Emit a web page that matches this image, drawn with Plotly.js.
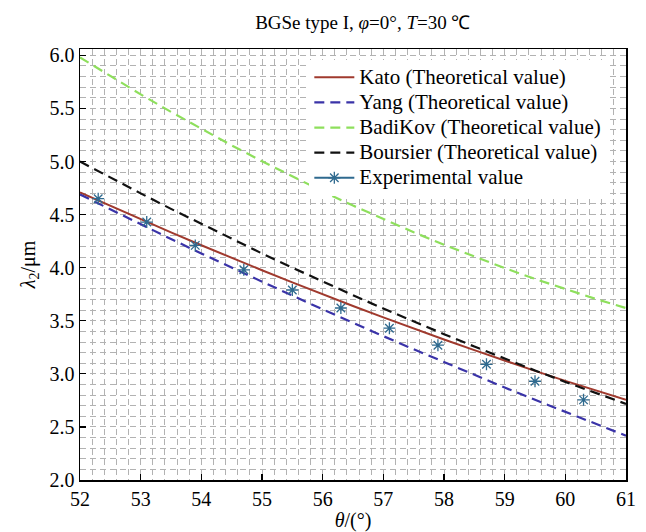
<!DOCTYPE html>
<html>
<head>
<meta charset="utf-8">
<script src="https://cdn.plot.ly/plotly-3.0.1.min.js"></script>
<style>
html,body{margin:0;padding:0;background:#fff;}
#chart{width:646px;height:532px;}
</style>
</head>
<body>
<div id="chart"></div>
<script>
// theta (deg) grid for theoretical curves
const thetaTheory = [52, 52.5, 53, 53.5, 54, 54.5, 55, 55.5, 56, 56.5, 57, 57.5, 58, 58.5, 59, 59.5, 60, 60.5, 61];
const kato     = [4.710, 4.582, 4.456, 4.333, 4.211, 4.092, 3.976, 3.862, 3.749, 3.639, 3.532, 3.426, 3.324, 3.223, 3.124, 3.028, 2.934, 2.844, 2.755];
const yang     = [4.690, 4.548, 4.409, 4.270, 4.134, 4.000, 3.867, 3.737, 3.608, 3.480, 3.355, 3.232, 3.110, 2.990, 2.871, 2.755, 2.640, 2.527, 2.417];
const badikov  = [5.980, 5.804, 5.633, 5.467, 5.307, 5.152, 5.003, 4.858, 4.719, 4.585, 4.457, 4.334, 4.216, 4.104, 3.996, 3.894, 3.798, 3.706, 3.620];
const boursier = [5.000, 4.848, 4.700, 4.554, 4.412, 4.271, 4.134, 4.000, 3.869, 3.741, 3.615, 3.493, 3.374, 3.257, 3.143, 3.032, 2.924, 2.819, 2.717];
// experimental
const thetaExp = [52.3, 53.1, 53.9, 54.7, 55.5, 56.3, 57.1, 57.9, 58.7, 59.5, 60.3];
const lambdaExp = [4.65, 4.43, 4.21, 3.98, 3.79, 3.62, 3.43, 3.27, 3.09, 2.93, 2.755];
const seriesNames = ['Kato (Theoretical value)', 'Yang (Theoretical value)', 'BadiKov (Theoretical value)', 'Boursier (Theoretical value)', 'Experimental value'];
const xTicks = [52, 53, 54, 55, 56, 57, 58, 59, 60, 61];
const yTicks = [2.0, 2.5, 3.0, 3.5, 4.0, 4.5, 5.0, 5.5, 6.0];

const FONT = 'Liberation Serif';
const dashPat = '10px,6px';
const expColor = '#2F6A8F';
const lg = s => '<span style="font-size:21px">' + s + '</span>';
const expMarker = {symbol: 'asterisk-open', size: 10, color: expColor, line: {color: expColor, width: 1.3}};

const traces = [
  {x: thetaTheory, y: kato, name: lg(seriesNames[0]), mode: 'lines', line: {color: '#A03A2E', width: 2}},
  {x: thetaTheory, y: yang, name: lg(seriesNames[1]), mode: 'lines', line: {color: '#3A33A8', width: 2.2, dash: dashPat}},
  {x: thetaTheory, y: badikov, name: lg(seriesNames[2]), mode: 'lines', line: {color: '#8EDF5C', width: 2.2, dash: dashPat}},
  {x: thetaTheory, y: boursier, name: lg(seriesNames[3]), mode: 'lines', line: {color: '#111111', width: 2.2, dash: dashPat}},
  {x: thetaExp, y: lambdaExp, name: seriesNames[4], mode: 'markers', showlegend: false, marker: expMarker},
  {x: [null], y: [null], name: lg(seriesNames[4]), mode: 'lines+markers',
   line: {color: expColor, width: 2.2}, marker: expMarker}
];

const gridCol = '#b2b2b2';
const layout = {
  width: 646, height: 532,
  margin: {l: 80, r: 20, t: 49, b: 52},
  paper_bgcolor: '#fff', plot_bgcolor: '#fff',
  font: {family: FONT, size: 20, color: '#000'},
  title: {text: 'BGSe type I, <i>φ</i>=0°, <i>T</i>=30 ℃', font: {family: FONT, size: 19, color: '#000'},
          x: 0.518, xref: 'paper', xanchor: 'center', y: 0.958, yref: 'container', yanchor: 'middle'},
  xaxis: {
    range: [52, 61], tickvals: xTicks, ticktext: xTicks.map(String),
    ticks: 'inside', ticklen: 6, tickwidth: 1.2, tickcolor: '#000',
    showline: true, linecolor: '#000', linewidth: 1.5, mirror: true,
    showgrid: true, gridcolor: gridCol, gridwidth: 1, griddash: '6px,4px',
    minor: {dtick: 0.2, tick0: 52, showgrid: true, gridcolor: gridCol, gridwidth: 1, griddash: '6px,4px', ticks: ''},
    zeroline: false, tickfont: {family: FONT, size: 20},
    title: {text: '<i>θ</i>/(°)', font: {family: FONT, size: 20}, standoff: 4}
  },
  yaxis: {
    range: [2, 6.06], tickvals: yTicks, ticktext: yTicks.map(v => v.toFixed(1)),
    ticks: 'inside', ticklen: 6, tickwidth: 1.2, tickcolor: '#000',
    showline: true, linecolor: '#000', linewidth: 1.5, mirror: true,
    showgrid: true, gridcolor: gridCol, gridwidth: 1, griddash: '6px,4px',
    minor: {dtick: 0.1, tick0: 2, showgrid: true, gridcolor: gridCol, gridwidth: 1, griddash: '6px,4px', ticks: ''},
    zeroline: false, tickfont: {family: FONT, size: 20},
    title: {text: '<i>λ</i><sub>2</sub>/μm', font: {family: FONT, size: 20}, standoff: 8}
  },
  legend: {x: 0.42, y: 0.975, xanchor: 'left', yanchor: 'top', bgcolor: '#fff', borderwidth: 0,
           font: {family: FONT, size: 17}, itemwidth: 40, tracegroupgap: 0},
  showlegend: true
};

Plotly.newPlot('chart', traces, layout, {displayModeBar: false, staticPlot: true});
</script>
</body>
</html>
